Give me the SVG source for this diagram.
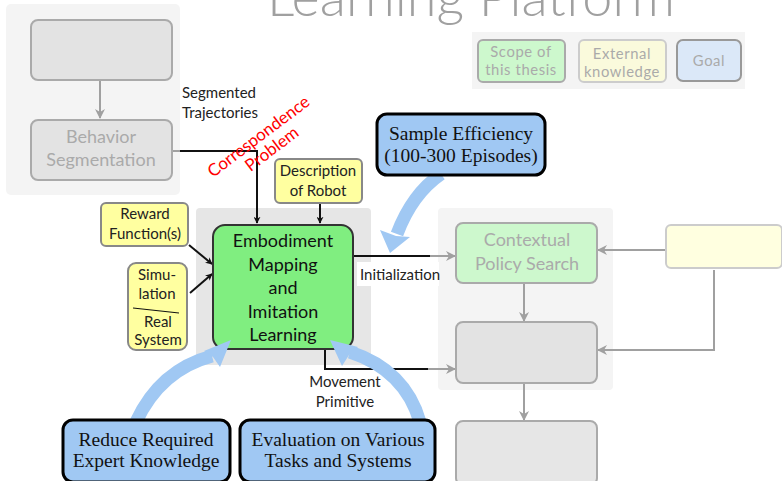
<svg xmlns="http://www.w3.org/2000/svg" width="782" height="481" viewBox="0 0 782 481">
<style>
text{font-family:Lato,"Open Sans","DejaVu Sans",sans-serif;text-anchor:middle}
.sans{font-size:15px;fill:#222}
.gtx{font-size:18px;fill:#aaa}
.ltx{font-size:14.8px;fill:#aaa;letter-spacing:0.6px}
.emb{font-size:18px;fill:#111}
.ser{font-family:"Liberation Serif","DejaVu Serif",serif;font-size:19.5px;fill:#111}
.panel{fill:#f4f4f4}
.gbox{fill:#e3e3e3;stroke:#aaa;stroke-width:2}
.ybox{fill:#ffffa0;stroke:#888;stroke-width:2}
.goal{fill:#a0c8f3;stroke:#000;stroke-width:3}
.bl{fill:none;stroke:#111;stroke-width:2}
.gl{fill:none;stroke:#a0a0a0;stroke-width:2}
.barrow{fill:none;stroke:#a0c8f3;stroke-width:13}
.bhead{fill:#a0c8f3}
</style>
<defs>
<marker id="ab" viewBox="0 0 10 10" refX="9" refY="5" markerWidth="7" markerHeight="7" orient="auto" markerUnits="userSpaceOnUse"><path d="M0,0 L10,5 L0,10 L3,5 z" fill="#111"/></marker>
<marker id="ag" viewBox="0 0 10 10" refX="9" refY="5" markerWidth="10" markerHeight="10" orient="auto" markerUnits="userSpaceOnUse"><path d="M0,0 L10,5 L0,10 L3,5 z" fill="#a0a0a0"/></marker>
</defs>
<text x="471" y="16" style="font-size:54px;fill:#a0a0a0;font-weight:300">Learning Platform</text>

<g id="panels">
<rect class="panel" x="6" y="4" width="174" height="191" rx="5"/>
<rect x="196" y="208" width="175" height="157" rx="4" fill="#e6e6e6"/>
<rect class="panel" x="438" y="208" width="175" height="182" rx="4"/>
<rect class="panel" x="472" y="32" width="273" height="57"/>
</g>

<g id="legend">
<g id="leg-scope"><rect x="478" y="40" width="87" height="42" rx="5" fill="#cdf8cd" stroke="#aaa" stroke-width="2"/><text class="ltx" x="521" y="57">Scope of</text><text class="ltx" x="521" y="75">this thesis</text></g>
<g id="leg-ext"><rect x="579" y="40" width="87" height="42" rx="5" fill="#fafadc" stroke="#ccc" stroke-width="2"/><text class="ltx" x="622" y="59">External</text><text class="ltx" x="622" y="77">knowledge</text></g>
<g id="leg-goal"><rect x="677" y="40" width="64" height="41" rx="6" fill="#dbe8f8" stroke="#999" stroke-width="2"/><text class="ltx" x="709" y="66">Goal</text></g>
</g>

<g id="connectors">
<line class="gl" x1="100" y1="80" x2="100" y2="118" marker-end="url(#ag)"/>
<path class="gl" d="M172,151 H181"/>
<path class="bl" d="M180,151 H257 V223" marker-end="url(#ab)"/>
<line class="bl" x1="320" y1="203" x2="320" y2="223" marker-end="url(#ab)"/>
<line class="bl" x1="189" y1="245" x2="212" y2="264" marker-end="url(#ab)"/>
<line class="bl" x1="190" y1="293" x2="212" y2="274" marker-end="url(#ab)"/>
<path class="bl" d="M353,256 H432"/>
<line class="gl" x1="430" y1="256" x2="455" y2="256" marker-end="url(#ag)"/>
<path class="bl" d="M325,349 V369 H430"/>
<line class="gl" x1="428" y1="369" x2="455" y2="369" marker-end="url(#ag)"/>
<line class="gl" x1="524" y1="283" x2="524" y2="321" marker-end="url(#ag)"/>
<line class="gl" x1="524" y1="383" x2="524" y2="420" marker-end="url(#ag)"/>
<line class="gl" x1="666" y1="250" x2="598" y2="250" marker-end="url(#ag)"/>
<path class="gl" d="M714,270 V350 H598" marker-end="url(#ag)"/>
</g>

<g id="labels">
<text class="sans" x="182" y="98" style="text-anchor:start">Segmented</text>
<text class="sans" x="182" y="118" style="text-anchor:start">Trajectories</text>
<g transform="translate(262,141) rotate(-37)"><text x="0" y="0" style="font-size:17px;fill:#f00">Correspondence</text><text x="3" y="18" style="font-size:17px;fill:#f00">Problem</text></g>
<rect x="357" y="262" width="82" height="24" fill="#fff"/>
<text class="sans" x="400" y="280">Initialization</text>
<text class="sans" x="345" y="387">Movement</text>
<text class="sans" x="345" y="407">Primitive</text>
</g>

<g id="n-top"><rect class="gbox" x="31" y="20" width="141" height="60" rx="7"/></g>
<g id="n-behavior"><rect class="gbox" x="31" y="120" width="141" height="60" rx="7"/><text class="gtx" x="101" y="143">Behavior</text><text class="gtx" x="101" y="166">Segmentation</text></g>
<g id="n-desc"><rect class="ybox" x="275" y="159" width="87" height="44" rx="5"/><text class="sans" x="318" y="176">Description</text><text class="sans" x="318" y="196">of Robot</text></g>
<g id="n-reward"><rect class="ybox" x="101" y="203" width="87" height="43" rx="5"/><text class="sans" x="145" y="219">Reward</text><text class="sans" x="145" y="239">Function(s)</text></g>
<g id="n-sim"><rect class="ybox" x="128" y="263" width="59" height="87" rx="8"/><text class="sans" x="157" y="280">Simu-</text><text class="sans" x="157" y="299">lation</text><line x1="133" y1="308" x2="179" y2="313" stroke="#111" stroke-width="1.2"/><text class="sans" x="158" y="327">Real</text><text class="sans" x="158" y="345">System</text></g>
<g id="n-embodiment"><rect x="213" y="225" width="140" height="124" rx="12" fill="#80ee80" stroke="#333" stroke-width="2"/>
<text class="emb" x="283" y="247">Embodiment</text><text class="emb" x="283" y="271">Mapping</text><text class="emb" x="283" y="294">and</text><text class="emb" x="283" y="318">Imitation</text><text class="emb" x="283" y="341">Learning</text></g>
<g id="n-cps"><rect x="456" y="223" width="141" height="60" rx="7" fill="#cdf8cd" stroke="#aaa" stroke-width="2"/><text class="gtx" x="527" y="246">Contextual</text><text class="gtx" x="527" y="270">Policy Search</text></g>
<g id="n-mid"><rect class="gbox" x="456" y="322" width="141" height="61" rx="7"/></g>
<g id="n-bottom"><rect x="456" y="421" width="141" height="64" rx="7" fill="#e6e6e6" stroke="#aaa" stroke-width="2"/></g>
<g id="n-ext"><rect x="666" y="225" width="116" height="43" rx="5" fill="#ffffe0" stroke="#ccc" stroke-width="2"/></g>

<g id="goal-arrows">
<path class="barrow" d="M441,174 Q412,194 397,234"/>
<path class="bhead" d="M390,253 L380,230 L396,236 L410,237 z"/>
<path class="barrow" d="M136,422 Q160,370 212,356"/>
<path class="bhead" d="M231,340 L204,351 L213,357 L220,367 z"/>
<path class="barrow" d="M420,422 Q405,370 350,352"/>
<path class="bhead" d="M330,340 L342,366 L349,355 L358,347 z"/>
</g>

<g id="n-sample"><rect class="goal" x="377" y="114" width="168" height="61" rx="10"/><text class="ser" x="461" y="140">Sample Efficiency</text><text class="ser" x="461" y="162">(100-300 Episodes)</text></g>
<g id="n-reduce"><rect class="goal" x="63" y="420" width="167" height="62" rx="10"/><text class="ser" x="146" y="446">Reduce Required</text><text class="ser" x="146" y="467">Expert Knowledge</text></g>
<g id="n-eval"><rect class="goal" x="240" y="420" width="195" height="62" rx="10"/><text class="ser" x="338" y="446">Evaluation on Various</text><text class="ser" x="338" y="467">Tasks and Systems</text></g>
</svg>
